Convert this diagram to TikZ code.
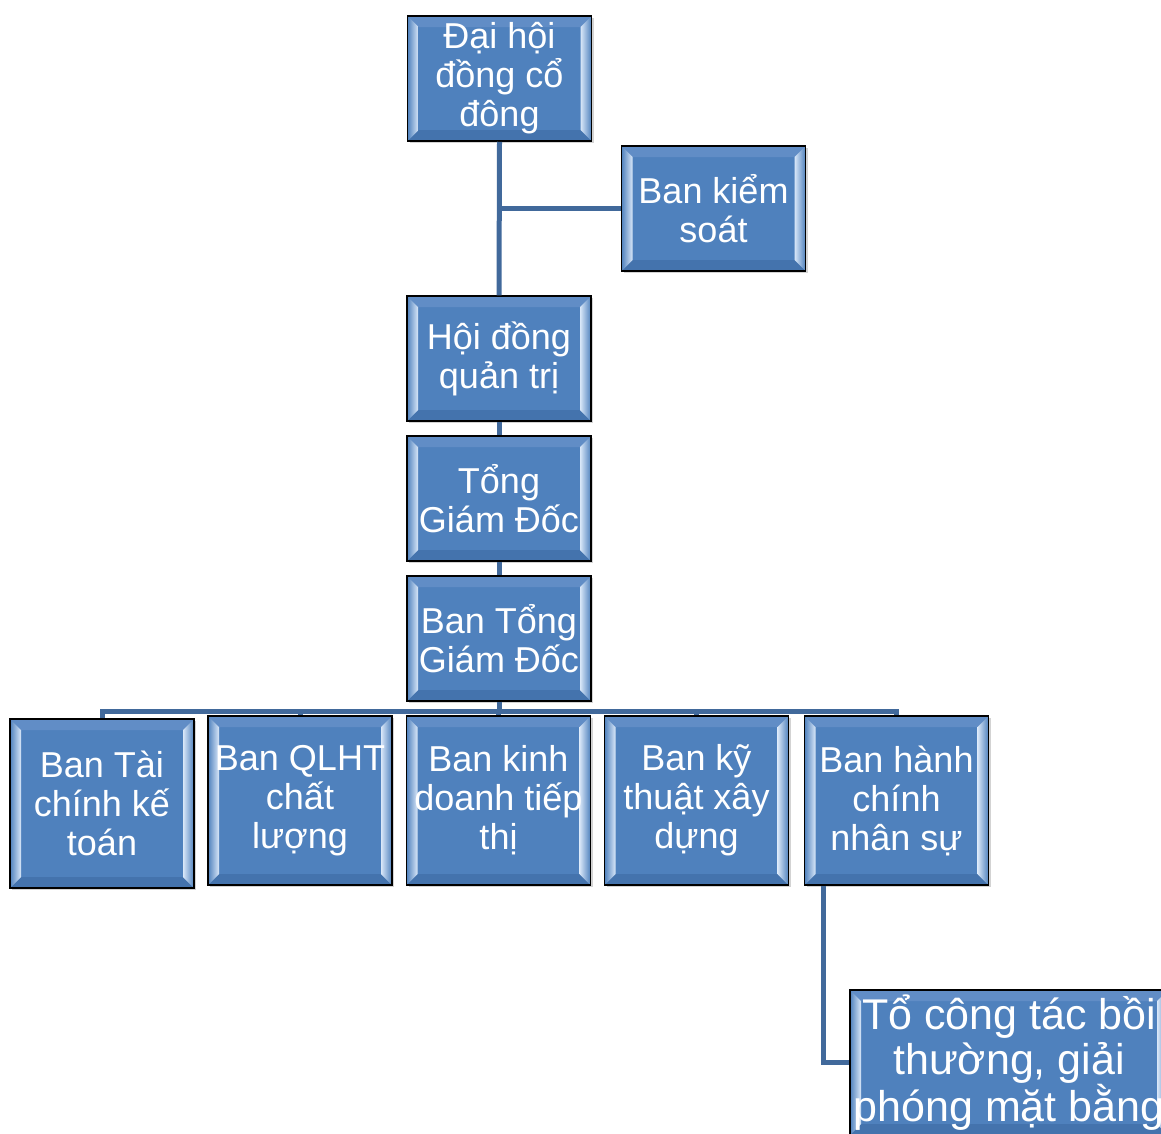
\documentclass[tikz,border=0pt]{standalone}
\usepackage{fontspec}
\setmainfont{Liberation Sans}
\usetikzlibrary{shadows}
\definecolor{boxblue}{HTML}{4F81BD}
\definecolor{boxtop}{HTML}{618DC6}
\definecolor{boxbot}{HTML}{4473AD}
\definecolor{boxglow}{HTML}{D9E7F8}
\definecolor{linkblue}{HTML}{41699B}
\tikzset{
  orgbox/.style={draw=black, line width=1.5pt, fill=boxblue, text=white,
    minimum width=184pt, minimum height=125pt, inner sep=0pt, align=center,
    font=\fontsize{36}{39}\selectfont,
    drop shadow={shadow xshift=2pt, shadow yshift=-2pt, opacity=.35},
    path picture={
      \fill[boxtop] (path picture bounding box.north west) -- (path picture bounding box.north east)
        -- ([shift={(-11pt,-11pt)}]path picture bounding box.north east)
        -- ([shift={(11pt,-11pt)}]path picture bounding box.north west) -- cycle;
      \fill[boxbot] (path picture bounding box.south west) -- (path picture bounding box.south east)
        -- ([shift={(-11pt,11pt)}]path picture bounding box.south east)
        -- ([shift={(11pt,11pt)}]path picture bounding box.south west) -- cycle;
      \shade[left color=boxblue, right color=boxglow] (path picture bounding box.north west)
        -- ([shift={(11pt,-11pt)}]path picture bounding box.north west)
        -- ([shift={(11pt,11pt)}]path picture bounding box.south west)
        -- (path picture bounding box.south west) -- cycle;
      \shade[left color=boxglow, right color=boxblue] (path picture bounding box.north east)
        -- ([shift={(-11pt,-11pt)}]path picture bounding box.north east)
        -- ([shift={(-11pt,11pt)}]path picture bounding box.south east)
        -- (path picture bounding box.south east) -- cycle;
    }},
  lowbox/.style={orgbox, minimum height=169pt},
  bigbox/.style={orgbox, minimum width=318pt, minimum height=145pt,
    font=\fontsize{43}{44.5}\selectfont},
  link/.style={draw=linkblue, line width=5pt}
}
\begin{document}
\begin{tikzpicture}[x=1pt,y=-1pt]
\clip (0,0) rectangle (1161,1133);

% cac cap tren
\node[orgbox] (dh) at (499.5,78.5) {Đại hội\\đồng cổ\\đông};
\node[orgbox] (ks) at (713.5,208.5) {Ban kiểm\\soát};
\node[orgbox] (hd) at (499,358.5) {Hội đồng\\quản trị};
\node[orgbox] (tgd) at (499,498.5) {Tổng\\Giám Đốc};
\node[orgbox] (btgd) at (499,638.5) {Ban Tổng\\Giám Đốc};

% cac ban
\node[lowbox] (tc) at (102,803.5) {Ban Tài\\chính kế\\toán};
\node[lowbox] (ql) at (300,800.5) {Ban QLHT\\chất\\lượng};
\node[lowbox] (kd) at (498.5,800.5) {Ban kinh\\doanh tiếp\\thị};
\node[lowbox] (kt) at (696.5,800.5) {Ban kỹ\\thuật xây\\dựng};
\node[lowbox] (hc) at (896.5,800.5) {Ban hành\\chính\\nhân sự};

\node[bigbox] (to) at (1009,1062.5) {Tổ công tác bồi\\thường, giải\\phóng mặt bằng};

\draw[link] (dh.south) -- (hd.north);
\draw[link] (dh.south |- ks.west) -- (ks.west);
\draw[link] (hd.south) -- (tgd.north);
\draw[link] (tgd.south) -- (btgd.north);
\foreach \b in {tc,ql,kd,kt,hc}
  \draw[link] (btgd.south) -- ++(0,10) -| (\b.north);
\draw[link] ([xshift=20pt]hc.south west) |- (to.west);
\end{tikzpicture}
\end{document}
